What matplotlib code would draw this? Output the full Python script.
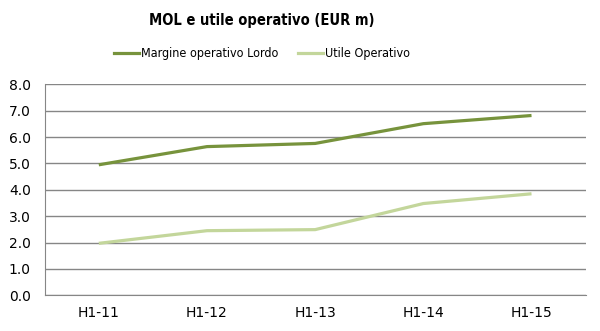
import matplotlib.pyplot as plt
from matplotlib.lines import Line2D

# dati semestrali
periodi = ["H1-11", "H1-12", "H1-13", "H1-14", "H1-15"]
mol = [4.95, 5.64, 5.76, 6.51, 6.82]
utile_operativo = [1.97, 2.45, 2.49, 3.48, 3.85]

col_mol = "#77933C"
col_utile = "#C3D69B"
col_griglia = "#868686"

fig = plt.figure(figsize=(6.0, 3.31), dpi=100)
ax = fig.add_axes([0.0745, 0.108, 0.9015, 0.637])

x = list(range(len(periodi)))
ax.plot(x, mol, color=col_mol, lw=2.3, solid_capstyle="butt")
ax.plot(x, utile_operativo, color=col_utile, lw=2.3, solid_capstyle="butt")

ax.set_xlim(-0.5, len(periodi) - 0.5)
ax.set_ylim(0, 8)
ax.set_yticks([i for i in range(9)])
ax.set_yticklabels([f"{i:.1f}" for i in range(9)], fontsize=10)
ax.set_xticks(x)
ax.set_xticklabels(periodi, fontsize=10)
ax.tick_params(length=0, pad=8)
ax.tick_params(axis="y", pad=10)

ax.grid(axis="y", color=col_griglia, lw=1)
ax.set_axisbelow(True)
for lato in ["top", "right"]:
    ax.spines[lato].set_visible(False)
ax.spines["left"].set_color(col_griglia)
ax.spines["bottom"].set_color(col_griglia)

# titolo e legenda centrati a sinistra del centro della figura
centro = 0.437
fig.text(centro, 0.937, "MOL e utile operativo (EUR m)", ha="center", va="center",
         fontsize=10.5, fontweight="bold", family="DejaVu Sans",
         fontstretch="condensed")

handles = [Line2D([], [], color=col_mol, lw=2.3),
           Line2D([], [], color=col_utile, lw=2.3)]
fig.legend(handles, ["Margine operativo Lordo", "Utile Operativo"],
           loc="center", bbox_to_anchor=(centro, 0.837), ncol=2, frameon=False,
           prop={"family": "DejaVu Sans", "stretch": "condensed", "size": 9},
           handlelength=2.0, handletextpad=0.15, columnspacing=1.6,
           borderpad=0.2)

fig.savefig("out.png", dpi=100)
